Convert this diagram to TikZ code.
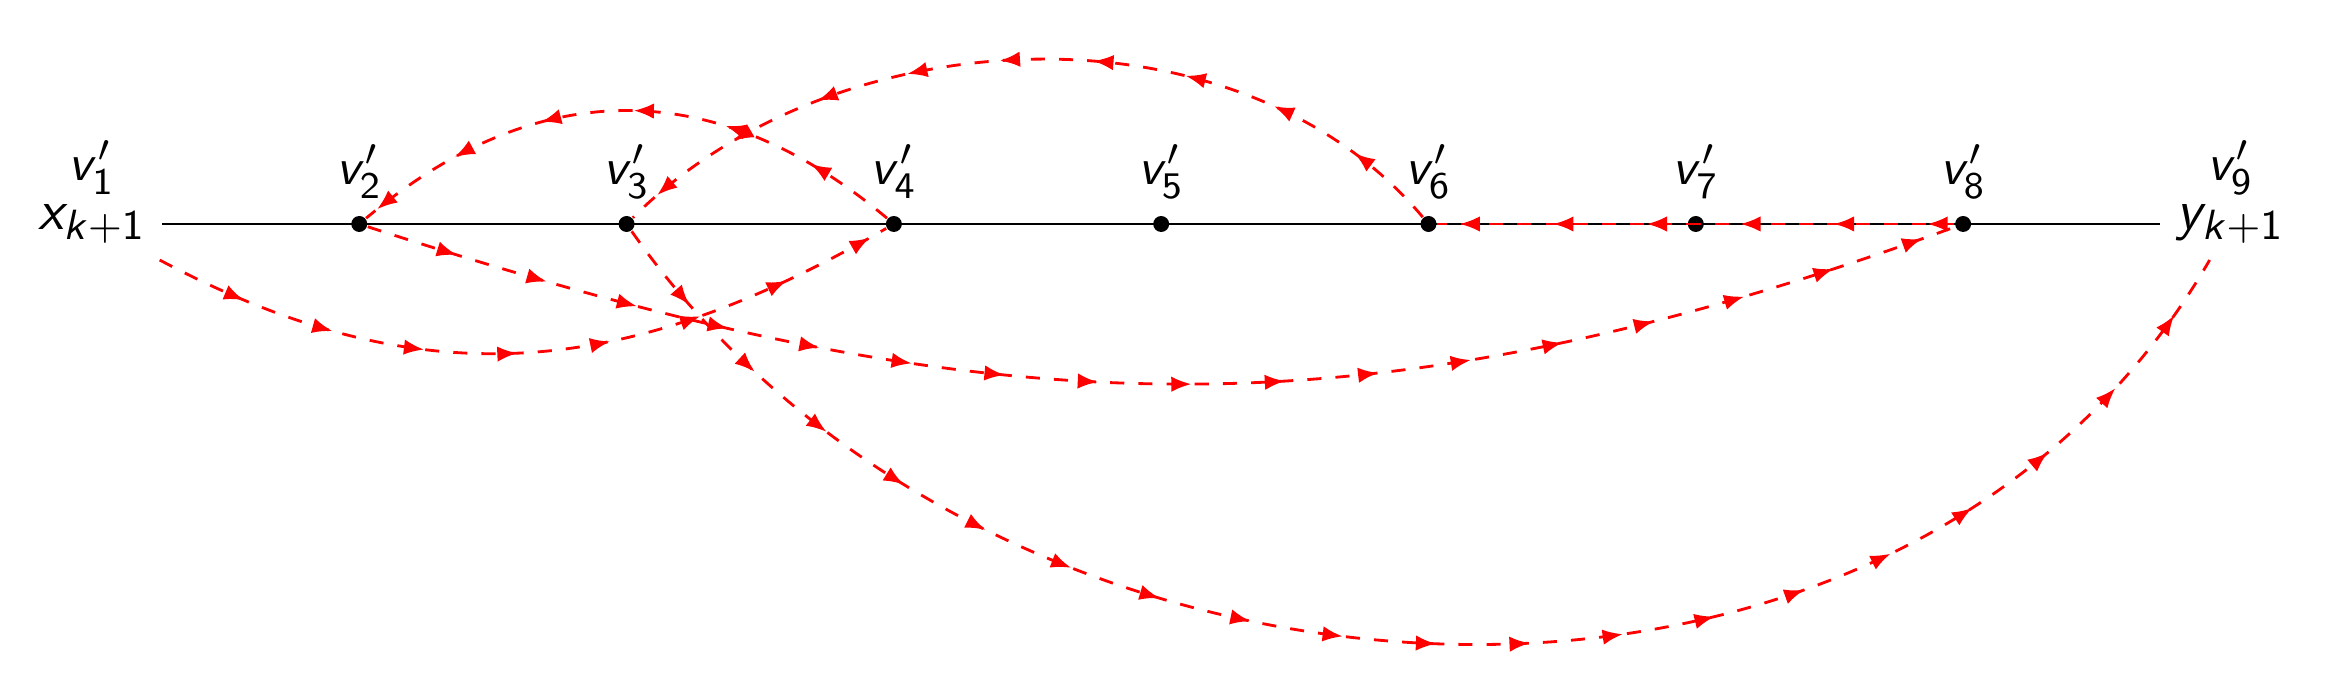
\documentclass[tikz,border=0pt]{standalone}
\usepackage{amsmath}
\usepackage{amssymb}
\usepackage{tikz}
\usetikzlibrary{calc, positioning, arrows.meta, decorations.markings}
\DeclareMathAlphabet{\mathsfit}{OT1}{cmss}{m}{sl}
\newcommand{\vname}[1]{$\mathsfit{v}'_{\mathsf{#1}}$}
\tikzstyle{vertex} = [circle, fill=black, inner sep=0pt, minimum size=3.4pt]
\tikzstyle{endpoint} = [font=\fontsize{13}{15}\selectfont]
\tikzstyle{vlabel} = [font=\fontsize{11}{13}\selectfont]
\tikzset{flowline/.style={red, dashed, line width=0.6pt, postaction={decorate},
	decoration={markings, mark=between positions #1 and 1 step 7mm with {\arrow{Latex[length=4.3pt, width=3.3pt]}}}},
	flowline/.default=7mm}

\begin{document}
\begin{tikzpicture}[x=2cm, y=2cm]
	\useasboundingbox (-0.344,-1.725) rectangle (8.365,0.838);
	% end points of the segment
	\node (V1) [endpoint, label={[vlabel, label distance=-5pt]above:\vname{1}}] at (0,0) {$\mathsfit{x}_{\mathsfit{k}+\mathsf{1}}$};
	\node (V9) [endpoint, label={[vlabel, label distance=-5pt]above:\vname{9}}] at (8,0) {$\mathsfit{y}_{\mathsfit{k}+\mathsf{1}}$};
	\draw (V1) -- (V9);
	\foreach \i in {2,...,8}
		\node (V\i) [vertex, label={[vlabel]above:\vname{\i}}] at (\i-1,0) {};
	% paths
	\draw [flowline] (V4) to[out=140, in=40, looseness=1.1] (V2);
	\draw [flowline] (V6) to[out=130, in=45, looseness=0.93] (V3);
	\draw [flowline] (V1) to[out=-28, in=210, looseness=1.05] (V4);
	\draw [flowline] (V2) to[out=-18, in=200, looseness=1.04] (V8);
	\draw [flowline] (V3) to[out=-55, in=-120, looseness=1.02] (V9);
	\draw [flowline=2mm] (V8) -- (V6);
\end{tikzpicture}
\end{document}
